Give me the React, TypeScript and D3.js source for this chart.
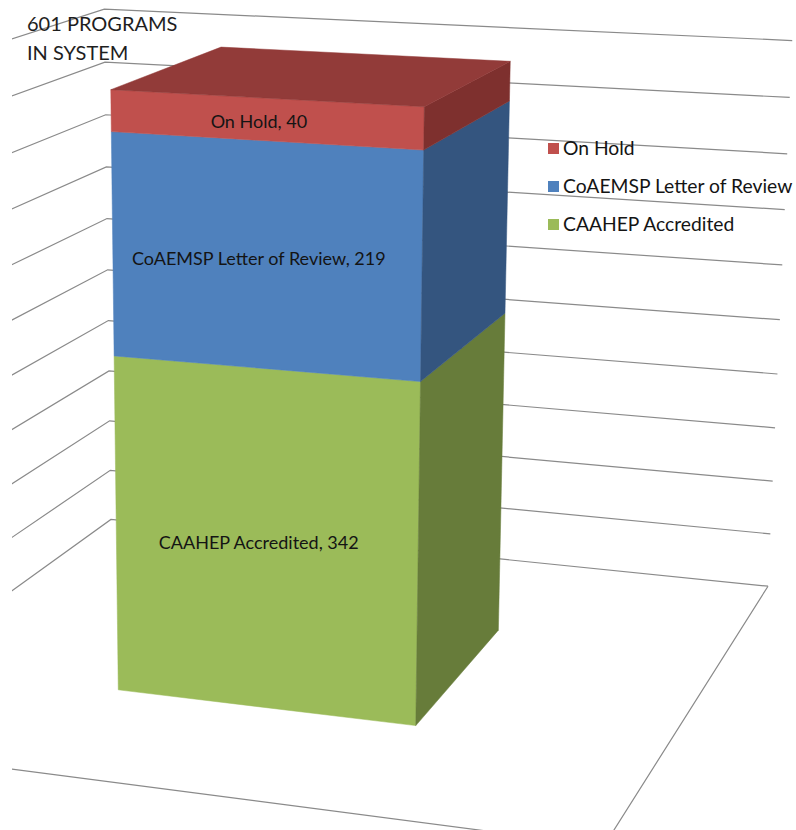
import React from "react";
import * as d3 from "d3";

// chart data
const categories = ["Programs"];
const seriesNames = ["CAAHEP Accredited", "CoAEMSP Letter of Review", "On Hold"];
const seriesValues = [342, 219, 40];
const frontColors = ["#9BBB59", "#4F81BD", "#C0504D"];
const sideColors = ["#677C3A", "#34557F", "#7E302E"];
const topColors = ["#7E9A46", "#3E6597", "#923B39"];
const legendOrder = ["On Hold", "CoAEMSP Letter of Review", "CAAHEP Accredited"];
const titleLines = ["601 PROGRAMS", "IN SYSTEM"];

// 3d box of the plot (world units) and the camera that looks at it
const BOX_W = 1295;
const BOX_D = 1305;
const BOX_H = 1000;
const yaw = (19.3 * Math.PI) / 180;
const pitch = (15.1 * Math.PI) / 180;
const focal = 3130;
const pp = [260, 438];
const cam = [2222, -4155, 1754];

const right = [Math.cos(yaw), Math.sin(yaw), 0];
const fwd = [-Math.sin(yaw) * Math.cos(pitch), Math.cos(yaw) * Math.cos(pitch), -Math.sin(pitch)];
const down = [
	fwd[1] * right[2] - fwd[2] * right[1],
	fwd[2] * right[0] - fwd[0] * right[2],
	fwd[0] * right[1] - fwd[1] * right[0],
];
const dot = (a: number[], b: number[]) => a[0] * b[0] + a[1] * b[1] + a[2] * b[2];

function project(p: number[]): [number, number] {
	const v = [p[0] - cam[0], p[1] - cam[1], p[2] - cam[2]];
	const cz = dot(fwd, v);
	return [pp[0] + (focal * dot(right, v)) / cz, pp[1] + (focal * dot(down, v)) / cz];
}

const xScale = d3.scaleBand().domain(categories).range([0, BOX_W]).padding(0.432).align(0.488);
const depthScale = d3.scaleBand().domain(categories).range([0, BOX_D]).padding(0.44).align(0.49);
const zScale = d3.scaleLinear().domain([0, 1]).range([0, BOX_H]);

const row: any = { category: categories[0] };
seriesNames.forEach((n, i) => (row[n] = seriesValues[i]));
const stacked = d3.stack().keys(seriesNames).offset(d3.stackOffsetExpand)([row]);

const lineGen = d3.line();
const poly = (pts: number[][]) => lineGen(pts.map(project)) + "Z";

const font = "Lato, 'Open Sans', sans-serif";

export default function App() {
	const x0 = xScale(categories[0]) as number;
	const x1 = x0 + xScale.bandwidth();
	const y0 = depthScale(categories[0]) as number;
	const y1 = y0 + depthScale.bandwidth();
	const ticks = zScale.ticks(10);

	return (
		<svg
			width={796}
			height={830}
			style={{ position: "absolute", left: 0, top: 0, background: "#fff" }}
			fontFamily={font}>
			<defs>
				<clipPath id="plotClip">
					<rect x={12} y={0} width={784} height={830} />
				</clipPath>
			</defs>
			<g clipPath="url(#plotClip)" stroke="#8a8a8a" strokeWidth={1.2} fill="none">
				{ticks.map((t) => {
					const z = zScale(t);
					const a = project([0, 0, z]);
					const b = project([0, BOX_D, z]);
					const c = project([BOX_W, BOX_D, z]);
					return <path key={t} d={lineGen([a, b, c]) as string} />;
				})}
				<path
					d={
						lineGen([
							project([0, 0, 0]),
							project([BOX_W, 0, 0]),
							project([BOX_W, BOX_D, 0]),
						]) as string
					}
				/>
			</g>
			{stacked.map((layer, i) => {
				const [s0, s1] = layer[0];
				const z0 = zScale(s0);
				const z1 = zScale(s1);
				return (
					<g key={layer.key}>
						<path
							d={poly([[x0, y0, z0], [x1, y0, z0], [x1, y0, z1], [x0, y0, z1]])}
							fill={frontColors[i]}
							stroke={frontColors[i]}
							strokeWidth={0.5}
						/>
						<path
							d={poly([[x1, y0, z0], [x1, y1, z0], [x1, y1, z1], [x1, y0, z1]])}
							fill={sideColors[i]}
							stroke={sideColors[i]}
							strokeWidth={0.5}
						/>
						{i === stacked.length - 1 && (
							<path
								d={poly([[x0, y0, z1], [x1, y0, z1], [x1, y1, z1], [x0, y1, z1]])}
								fill={topColors[i]}
								stroke={topColors[i]}
								strokeWidth={0.5}
							/>
						)}
					</g>
				);
			})}
			{stacked.map((layer, i) => {
				const [s0, s1] = layer[0];
				const [lx, ly] = project([(x0 + x1) / 2, y0, zScale((s0 + s1) / 2)]);
				return (
					<text
						key={layer.key}
						x={lx - 6}
						y={ly + 2}
						textAnchor="middle"
						dominantBaseline="central"
						fontSize={18}
						fill="#141414">
						{`${layer.key}, ${seriesValues[i]}`}
					</text>
				);
			})}
			<g>
				{legendOrder.map((name, k) => {
					const i = seriesNames.indexOf(name);
					return (
						<g key={name} transform={`translate(548, ${143 + k * 38})`}>
							<rect width={11} height={11} fill={frontColors[i]} />
							<text x={15} y={12} fontSize={19.3} fill="#141414">
								{name}
							</text>
						</g>
					);
				})}
			</g>
			{titleLines.map((t, k) => (
				<text key={t} x={27} y={31 + k * 29} fontSize={20} fill="#1e1e1e">
					{t}
				</text>
			))}
		</svg>
	);
}
